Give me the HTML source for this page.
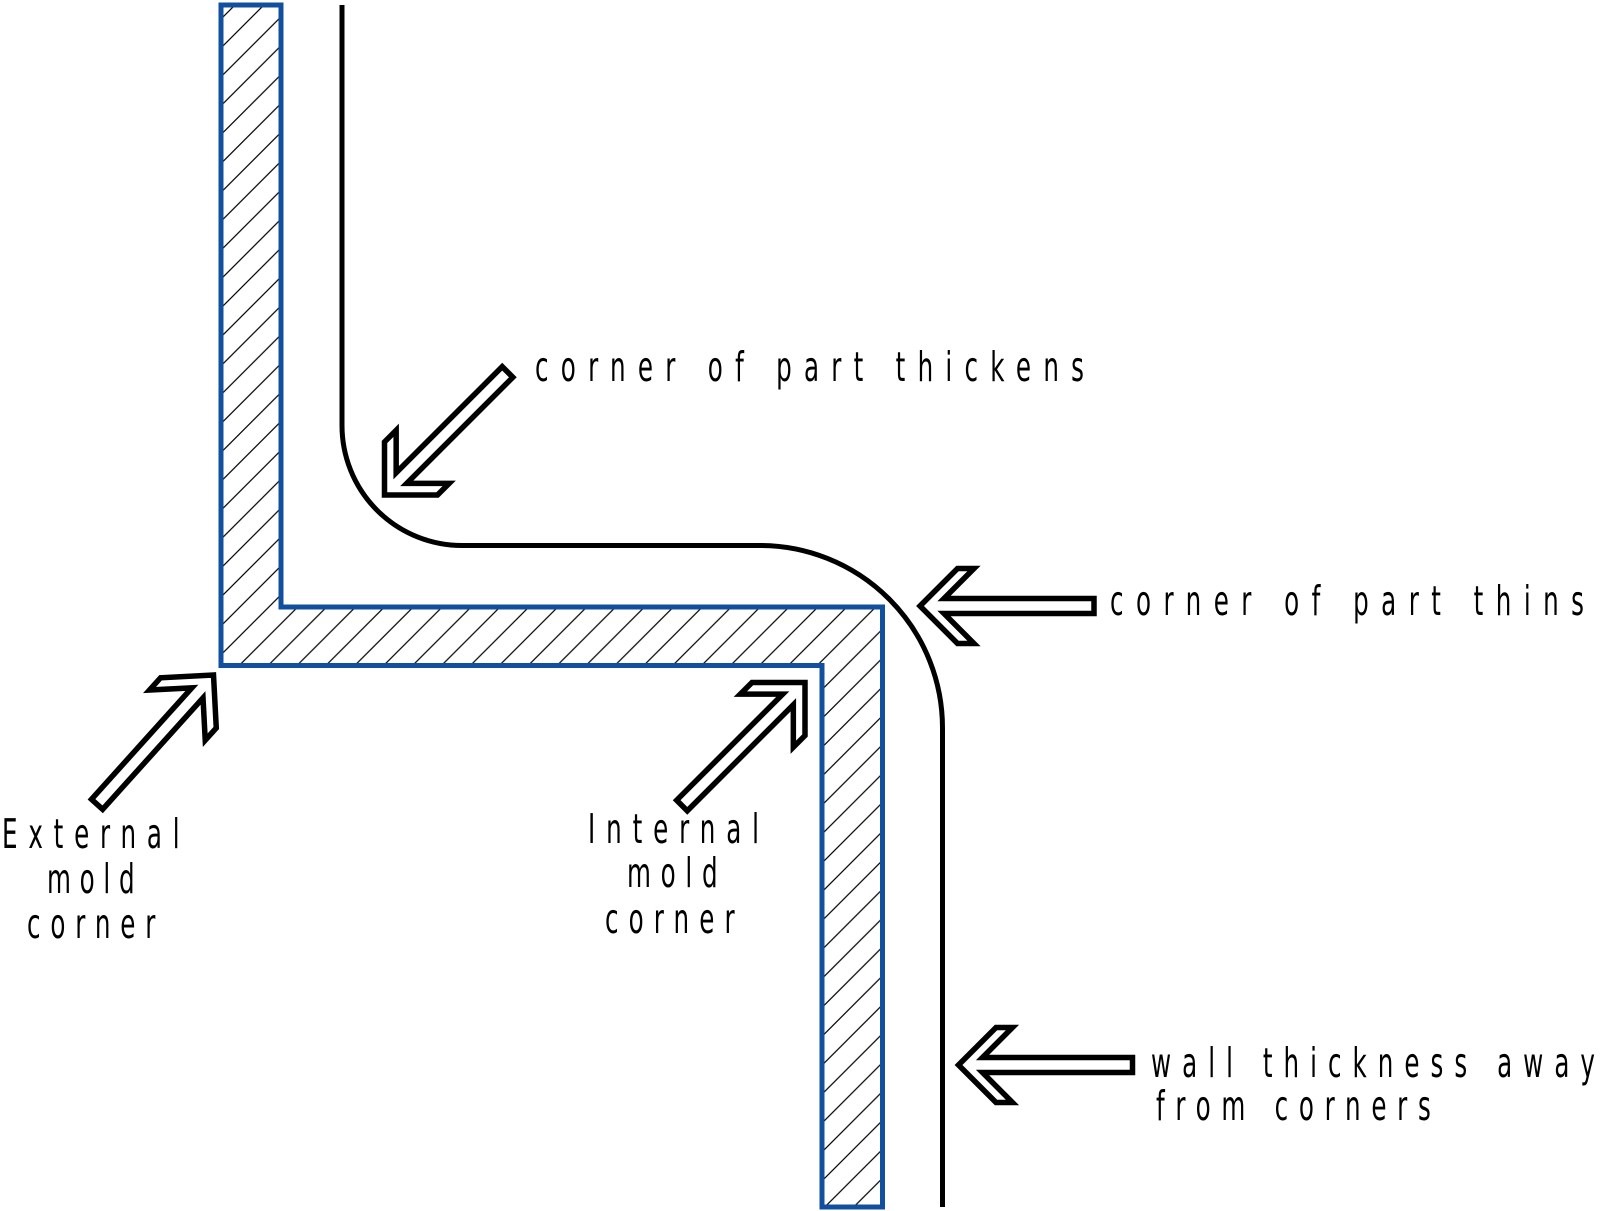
<!DOCTYPE html>
<html>
<head>
<meta charset="utf-8">
<style>
  html, body { margin: 0; padding: 0; background: #fff; overflow: hidden; }
  svg { display: block; }
  .t { font-family: "DejaVu Sans", "Liberation Sans", sans-serif; font-size: 41px; font-weight: 400; fill: #000; }
</style>
</head>
<body>
<svg width="1600" height="1211" viewBox="0 0 1600 1211" xmlns="http://www.w3.org/2000/svg">
  <defs>
    <pattern id="hatch" patternUnits="userSpaceOnUse" width="28.9" height="28.9" patternTransform="translate(8.8,0)">
      <path d="M-2,2 L2,-2 M0,28.9 L28.9,0 M26.9,30.9 L30.9,26.9" stroke="#000" stroke-width="1.2" fill="none"/>
    </pattern>
    <path id="arr" d="M0,0 L37.5,-37.5 L54,-37.5 L24,-7.5 L174,-7.5 L174,7.5 L24,7.5 L54,37.5 L37.5,37.5 Z"
          fill="#fff" stroke="#000" stroke-width="5.5" stroke-linejoin="miter" stroke-miterlimit="10"/>
  </defs>

  <rect width="1600" height="1211" fill="#fff"/>

  <!-- hatched mold section -->
  <path d="M221,5 H281 V607 H882.5 V1207 H822 V665.5 H221 Z" fill="url(#hatch)" stroke="#12509f" stroke-width="5" stroke-linejoin="miter"/>

  <!-- part profile -->
  <path d="M342,5 V425.5 A120,120 0 0 0 462,545.5 H760 A182.5,182.5 0 0 1 942.5,728 V1207"
        fill="none" stroke="#000" stroke-width="5"/>

  <!-- arrows -->
  <use href="#arr" transform="translate(920,606)"/>
  <use href="#arr" transform="translate(958.5,1065)"/>
  <use href="#arr" transform="translate(384.5,495) rotate(-45)"/>
  <use href="#arr" transform="translate(213.5,675) rotate(132)"/>
  <use href="#arr" transform="translate(805,682.5) rotate(135)"/>

  <!-- labels -->
  <text class="t" transform="translate(535,381) scale(0.6,1)" textLength="915" lengthAdjust="spacing">corner of part thickens</text>
  <text class="t" transform="translate(1110,615) scale(0.6,1)" textLength="790" lengthAdjust="spacing">corner of part thins</text>
  <text class="t" transform="translate(1151,1077) scale(0.6,1)" textLength="740" lengthAdjust="spacing">wall thickness away</text>
  <text class="t" transform="translate(1156,1120) scale(0.6,1)" textLength="458" lengthAdjust="spacing">from corners</text>

  <text class="t" transform="translate(2,848) scale(0.6,1)" textLength="296" lengthAdjust="spacing">External</text>
  <text class="t" transform="translate(47,893) scale(0.6,1)" textLength="146" lengthAdjust="spacing">mold</text>
  <text class="t" transform="translate(27,938) scale(0.6,1)" textLength="214" lengthAdjust="spacing">corner</text>

  <text class="t" transform="translate(588,843) scale(0.6,1)" textLength="285" lengthAdjust="spacing">Internal</text>
  <text class="t" transform="translate(627,887) scale(0.6,1)" textLength="151" lengthAdjust="spacing">mold</text>
  <text class="t" transform="translate(605,933) scale(0.6,1)" textLength="216" lengthAdjust="spacing">corner</text>
</svg>
</body>
</html>
